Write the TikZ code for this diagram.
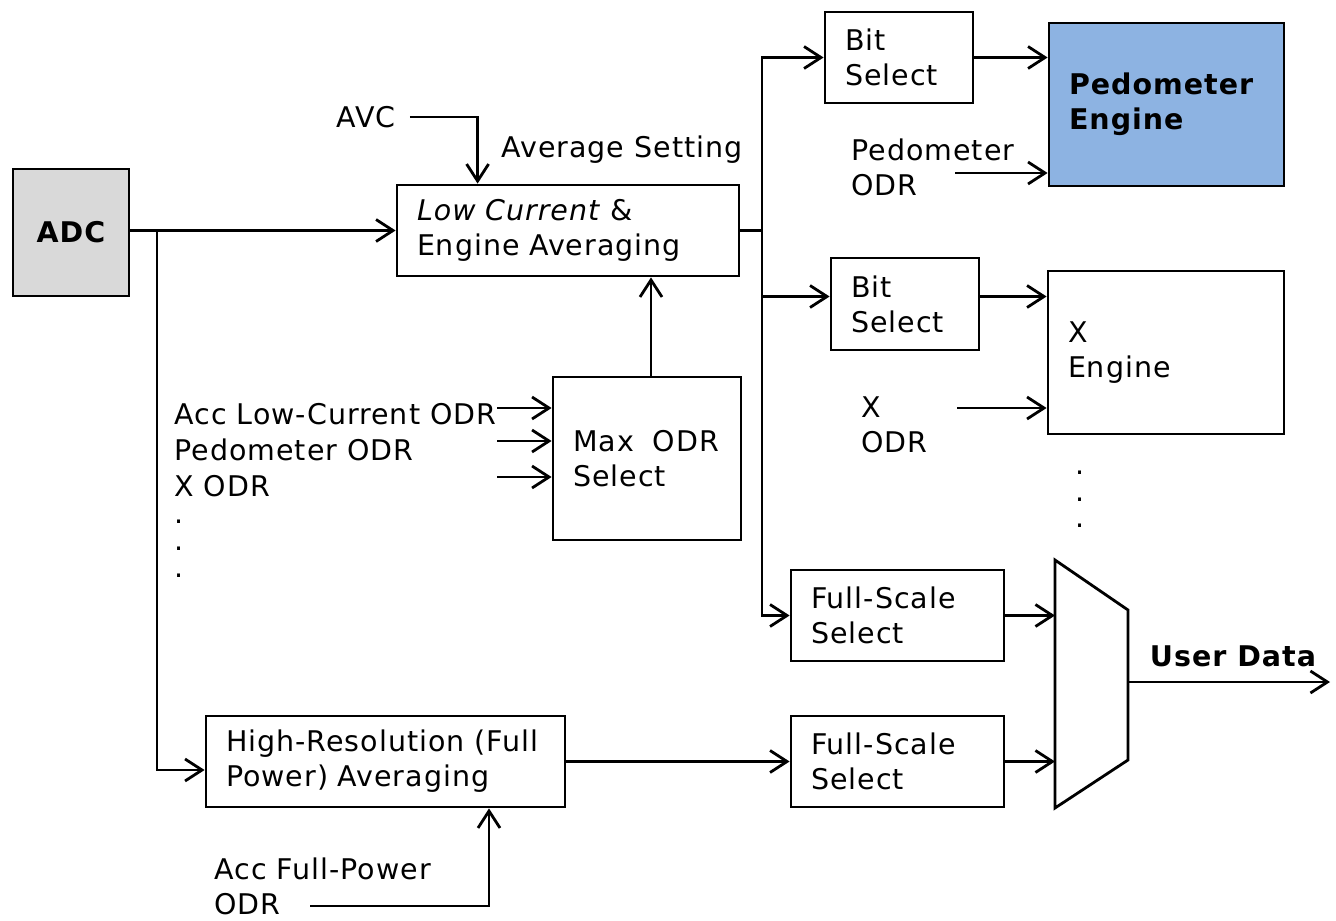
\documentclass[tikz,border=0pt]{standalone}
\usepackage{fontspec}
\setmainfont{DejaVu Sans}[LetterSpace=3.5]
\usepackage{tikz}
\usetikzlibrary{positioning,calc,arrows.meta}

\definecolor{adcgray}{HTML}{D9D9D9}
\definecolor{pedblue}{HTML}{8DB3E2}
\newcommand{\diagfont}{\fontsize{28.5}{35}\selectfont}

\tikzset{
  blk/.style={draw, align=left, inner xsep=20pt, inner ysep=0pt},
  lbl/.style={inner sep=0pt, align=left, anchor=west},
  dotlbl/.style={inner sep=0pt, anchor=base west},
  >={Straight Barb[length=17pt,width=22pt]},
}

\begin{document}
\begin{tikzpicture}[x=1pt, y=-1pt, line width=2.8pt, font=\diagfont]
\useasboundingbox (0,0) rectangle (1336,921);

% blocks
\node[blk, fill=adcgray, align=center, minimum width=116pt, minimum height=127pt, inner xsep=0pt, font=\diagfont\bfseries] (adc) at (71,232.5) {ADC};
\node[blk, text width=302pt, minimum height=91pt] (lc) at (568,230.5) {\textit{Low Current} \&\\Engine Averaging};
\node[blk, text width=148pt, minimum height=163pt] (maxsel) at (647,458.5) {Max\ \ ODR\\Select};
\node[blk, text width=319pt, minimum height=91pt] (hr) at (385.5,761.5) {High-Resolution (Full\\Power) Averaging};
\node[blk, text width=108pt, minimum height=91pt] (bitA) at (899,57.5) {Bit\\Select};
\node[blk, text width=108pt, minimum height=92pt] (bitB) at (905,304) {Bit\\Select};
\node[blk, fill=pedblue, text width=195pt, minimum height=163pt, font=\diagfont\bfseries] (pedeng) at (1166.5,104.5) {Pedometer\\Engine};
\node[blk, text width=196pt, minimum height=163pt] (xeng) at (1166,352.5) {X\\Engine};
\node[blk, text width=173pt, minimum height=91pt] (fsA) at (897.5,615.5) {Full-Scale\\Select};
\node[blk, text width=173pt, minimum height=91pt] (fsB) at (897.5,761.5) {Full-Scale\\Select};

% mux
\coordinate (muxA) at (1055,560);
\coordinate (muxB) at (1128,610);
\coordinate (muxC) at (1128,760);
\coordinate (muxD) at (1055,808);
\draw[line join=miter] (muxA) -- (muxB) -- (muxC) -- (muxD) -- cycle;

% labels
\node[lbl] (avc) at (335,117) {AVC};
\node[lbl] (avgset) at (500,150) {Average Setting};
\node[lbl, font=\fontsize{28.5}{36}\selectfont] (odrlist) at (173,450) {Acc Low-Current ODR\\Pedometer ODR\\X ODR};
\foreach \y [count=\i] in {523,550,577}
  \node[dotlbl] (ldot\i) at (173,\y) {.};
\node[lbl] (pedodr) at (850,167.5) {Pedometer\\ODR};
\node[lbl] (xodr) at (860,424.5) {X\\ODR};
\foreach \y [count=\i] in {474,501,527}
  \node[dotlbl] (rdot\i) at (1074,\y) {.};
\node[lbl] (fpodrlbl) at (213,886) {Acc Full-Power\\ODR};
\node[lbl, anchor=center, font=\diagfont\bfseries] (udata) at (1233,656) {User Data};

% ADC paths
\coordinate (tap) at (157,230.5);
\coordinate (hrin) at ($(hr.west)+(0,8.5)$);
\draw[->] (adc.east |- lc.west) -- (lc.west);
\draw[->] (tap) |- (hrin);

% averaging setting and ODR select
\coordinate (avgin) at ($(lc.north west)+(82,0)$);
\draw[->] ([xshift=13pt]avc.east) -| (avgin);
\coordinate (mtop) at ($(maxsel.north)+(4,0)$);
\draw[->] (mtop) -- (mtop |- lc.south);
\foreach \y [count=\i] in {408,441,477} {
  \coordinate (odr\i) at (497,\y);
  \draw[->] (odr\i) -- (odr\i -| maxsel.west);
}

% bus to the engines
\coordinate (bus) at (762,230.5);
\coordinate (bBin) at ($(bitB.west)+(0,-7.5)$);
\draw (lc.east) -- (bus);
\draw[->] (bus) |- (bitA.west);
\draw[->] (bus) |- (fsA.west);
\draw[->] (bus |- bBin) -- (bBin);
\draw[->] (bitA.east) -- (bitA.east -| pedeng.west);
\draw[->] (bitB.east |- bBin) -- (xeng.west |- bBin);
\coordinate (podr) at (955,173);
\draw[->] (podr) -- (podr -| pedeng.west);
\coordinate (xodrin) at (957,408);
\draw[->] (xodrin) -- (xodrin -| xeng.west);

% full power path
\coordinate (fpin) at ($(hr.south)+(103.5,0)$);
\coordinate (fpodr) at (310,906);
\draw[->] (fpodr) -| (fpin);
\draw[->] (hr.east) -- (fsB.west);

% into the mux and out
\draw[->] (fsA.east) -- (fsA.east -| muxA);
\draw[->] (fsB.east) -- (fsB.east -| muxA);
\coordinate (muxout) at (1128,682);
\coordinate (userout) at (1330,682);
\draw[->] (muxout) -- (userout);
\end{tikzpicture}
\end{document}
